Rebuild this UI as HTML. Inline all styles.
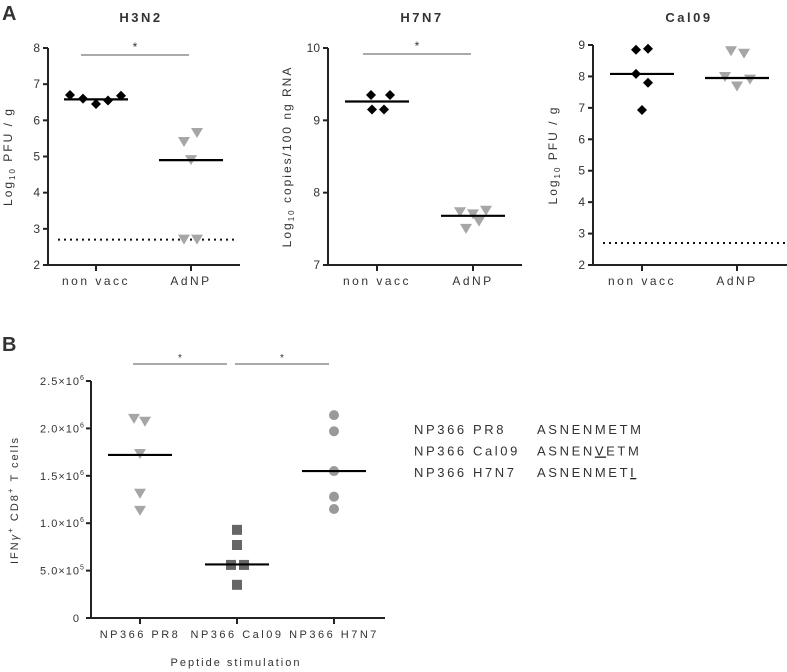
<!DOCTYPE html>
<html><head><meta charset="utf-8"><style>
body{margin:0;background:#fff;}
svg{display:block;font-family:"Liberation Sans",sans-serif;}
text{fill:#333;}
</style></head><body>
<svg id="c" width="787" height="672" viewBox="0 0 787 672"></svg>
<script>
// ---- data ----
const h3Groups = ["non vacc","AdNP"];
const h3NonVacc = [6.7,6.6,6.45,6.55,6.68];
const h3AdNP = [5.4,5.65,4.9,2.7,2.7];
const h3Medians = [6.58,4.9];
const h3Ticks = [2,3,4,5,6,7,8];
const h7NonVacc = [9.35,9.35,9.15,9.15];
const h7AdNP = [7.73,7.7,7.75,7.6,7.5];
const h7Medians = [9.26,7.68];
const h7Ticks = [7,8,9,10];
const calNonVacc = [8.85,8.88,8.08,7.8,6.93];
const calAdNP = [8.8,8.72,7.98,7.68,7.9];
const calMedians = [8.08,7.95];
const calTicks = [2,3,4,5,6,7,8,9];
const detectionLimit = 2.7;
const bGroups = ["NP366 PR8","NP366 Cal09","NP366 H7N7"];
const bPR8 = [2.1e6,2.07e6,1.73e6,1.31e6,1.13e6];
const bCal09 = [0.93e6,0.77e6,0.56e6,0.56e6,0.35e6];
const bH7N7 = [2.14e6,1.97e6,1.55e6,1.28e6,1.15e6];
const bMedians = [1.72e6,0.565e6,1.55e6];
const bTicks = [0,5e5,1e6,1.5e6,2e6,2.5e6];
const bTickLabels = ["0","5.0×10","1.0×10","1.5×10","2.0×10","2.5×10"];
const bTickExp = ["","5","6","6","6","6"];

const NS="http://www.w3.org/2000/svg";
const svg=document.getElementById('c');
function el(tag,attrs,parent,txt){const e=document.createElementNS(NS,tag);for(const k in attrs)e.setAttribute(k,attrs[k]);if(txt!==undefined)e.textContent=txt;(parent||svg).appendChild(e);return e;}
function grp(name){const g=el('g',{});return g;}
function lin(d0,d1,r0,r1){return v=>r0+(v-d0)/(d1-d0)*(r1-r0);}
const offs5=[-6,6,0,-6,6];

function diamond(g,x,y,c){el('path',{d:`M${x} ${y-5}L${x+5} ${y}L${x} ${y+5}L${x-5} ${y}Z`,fill:c},g);}
function tri(g,x,y,c){el('path',{d:`M${x-6} ${y-5}L${x+6} ${y-5}L${x} ${y+5}Z`,fill:c},g);}
function sq(g,x,y,c){el('rect',{x:x-5,y:y-5,width:10,height:10,fill:c},g);}
function circ(g,x,y,c){el('circle',{cx:x,cy:y,r:5,fill:c},g);}

function axisY(g,ax,y,ticks,top,bottom,fmt){
  el('line',{x1:ax,y1:top,x2:ax,y2:bottom,stroke:'#222','stroke-width':2},g);
  ticks.forEach((t,i)=>{const yy=y(t);el('line',{x1:ax-5,y1:yy,x2:ax,y2:yy,stroke:'#222','stroke-width':2},g);
    const tx=el('text',{x:ax-8,y:yy+4,'text-anchor':'end','font-size':12},g,fmt?fmt(i):String(t));});
}
function axisX(g,ax,x0,x1,y0,xs,labels,fs,ls){
  el('line',{x1:ax,y1:y0,x2:x1,y2:y0,stroke:'#222','stroke-width':2},g);
  xs.forEach((x,i)=>{el('line',{x1:x,y1:y0,x2:x,y2:y0+6,stroke:'#222','stroke-width':2},g);
    el('text',{x:x,y:y0+20,'text-anchor':'middle','font-size':fs||12,'letter-spacing':ls||2.5},g,labels[i]);});
}
function median(g,x,y,v,hw){el('line',{x1:x-hw,y1:y(v),x2:x+hw,y2:y(v),stroke:'#000','stroke-width':2.2},g);}

function panel(name,opts){
  const g=grp(name);
  const y=lin(opts.ymin,opts.ymax,opts.bottom,opts.top);
  el('text',{x:opts.titleX,y:22,'text-anchor':'middle','font-size':13,'font-weight':'bold','letter-spacing':2.5},g,opts.title);
  axisY(g,opts.ax,y,opts.ticks,opts.top,opts.bottom);
  axisX(g,opts.ax,0,opts.xend,opts.bottom,opts.xs,h3Groups);
  const yt=el('text',{transform:`translate(${opts.ytx},${(opts.top+opts.bottom)/2}) rotate(-90)`,'text-anchor':'middle','font-size':12,'letter-spacing':2},g);
  el('tspan',{},yt,'Log');el('tspan',{'font-size':8,dy:3},yt,'10');el('tspan',{dy:-3},yt,opts.ylabel);
  if(opts.dotted){el('line',{x1:opts.ax+10,y1:y(detectionLimit),x2:opts.xend-2,y2:y(detectionLimit),stroke:'#111','stroke-width':2,'stroke-dasharray':'2,4'},g);}
  if(opts.sig){el('line',{x1:opts.sig[0],y1:opts.sig[2],x2:opts.sig[1],y2:opts.sig[2],stroke:'#777','stroke-width':1.2},g);
    el('text',{x:(opts.sig[0]+opts.sig[1])/2,y:opts.sig[2]-4,'text-anchor':'middle','font-size':12},g,'*');}
  opts.a.forEach((v,i)=>diamond(g,opts.xs[0]+opts.aoff[i],y(v),'#000'));
  opts.b.forEach((v,i)=>tri(g,opts.xs[1]+opts.boff[i],y(v),'#a6a6a6'));
  median(g,opts.xs[0],y,opts.med[0],32);median(g,opts.xs[1],y,opts.med[1],32);
}
panel('h3n2-panel',{title:'H3N2',titleX:141,ax:48,top:48,bottom:265,ymin:2,ymax:8,ticks:h3Ticks,xend:240,xs:[96,191],ytx:12,ylabel:' PFU / g',dotted:true,sig:[81,189,55],
  a:h3NonVacc,aoff:[-26,-13,0,12,25],b:h3AdNP,boff:[-7,6,0,-7,6],med:h3Medians});
panel('h7n7-panel',{title:'H7N7',titleX:422,ax:328,top:48,bottom:265,ymin:7,ymax:10,ticks:h7Ticks,xend:522,xs:[377,473],ytx:291,ylabel:' copies/100 ng RNA',dotted:false,sig:[363,471,54],
  a:h7NonVacc,aoff:[-6,13,-5,7],b:h7AdNP,boff:[-13,0,13,6,-7],med:h7Medians});
panel('cal09-panel',{title:'Cal09',titleX:689,ax:593,top:45,bottom:265,ymin:2,ymax:9,ticks:calTicks,xend:787,xs:[642,737],ytx:557,ylabel:' PFU / g',dotted:true,sig:null,
  a:calNonVacc,aoff:[-6,6,-6,6,0],b:calAdNP,boff:[-6,7,-12,0,13],med:calMedians});
el('text',{x:2,y:20,'font-size':20,'font-weight':'bold',fill:'#111'},svg,'A');
el('text',{x:2,y:351,'font-size':20,'font-weight':'bold',fill:'#111'},svg,'B');

// panel B
(function(){
  const g=grp('panel-b-chart');
  const y=lin(0,2.5e6,618,381);const xs=[140,237,334];
  el('line',{x1:91,y1:381,x2:91,y2:618,stroke:'#222','stroke-width':2},g);
  bTicks.forEach((t,i)=>{const yy=y(t);el('line',{x1:86,y1:yy,x2:91,y2:yy,stroke:'#222','stroke-width':2},g);
    const tx=el('text',{x:80,y:yy+4,'text-anchor':'end','font-size':11,'letter-spacing':1},g,bTickLabels[i]);
    if(bTickExp[i])el('text',{x:80,y:yy-1,'font-size':7},g,bTickExp[i]);});
  axisX(g,91,0,385,618,xs,bGroups,11,2.5);
  el('text',{x:236,y:666,'text-anchor':'middle','font-size':11,'letter-spacing':2},g,'Peptide stimulation');
  const yt=el('text',{transform:'translate(18,500) rotate(-90)','text-anchor':'middle','font-size':11,'letter-spacing':2},g);
  el('tspan',{},yt,'IFN');el('tspan',{'font-style':'italic'},yt,'γ');el('tspan',{'font-size':8,dy:-5},yt,'+');el('tspan',{dy:5},yt,' CD8');el('tspan',{'font-size':8,dy:-5},yt,'+');el('tspan',{dy:5},yt,' T cells');
  [[133,227],[235,329]].forEach(s=>{el('line',{x1:s[0],y1:364,x2:s[1],y2:364,stroke:'#555','stroke-width':1},g);el('text',{x:(s[0]+s[1])/2,y:361,'text-anchor':'middle','font-size':10},g,'*');});
  const po=[-6,5,0,0,0];bPR8.forEach((v,i)=>tri(g,xs[0]+po[i],y(v),'#a6a6a6'));
  const co=[0,0,-6,7,0];bCal09.forEach((v,i)=>sq(g,xs[1]+co[i],y(v),'#666'));
  bH7N7.forEach(v=>circ(g,xs[2],y(v),'#999'));
  bMedians.forEach((m,i)=>median(g,xs[i],y,m,32));
})();
// sequences
(function(){
  const g=grp('sequence-table');
  const rows=[['NP366 PR8','ASNENMETM',-1],['NP366 Cal09','ASNENVETM',5],['NP366 H7N7','ASNENMETI',8]];
  rows.forEach((r,i)=>{const yy=434+i*21.5;
    el('text',{x:414,y:yy,'font-size':13,'letter-spacing':2.6,fill:'#555'},g,r[0]);
    const t=el('text',{x:537,y:yy,'font-size':13,'letter-spacing':2.6,fill:'#555'},g);
    [...r[1]].forEach((ch,k)=>{el('tspan',k===r[2]?{'text-decoration':'underline',fill:'#222'}:{},t,ch);});
  });
})();
</script>
</body></html>
